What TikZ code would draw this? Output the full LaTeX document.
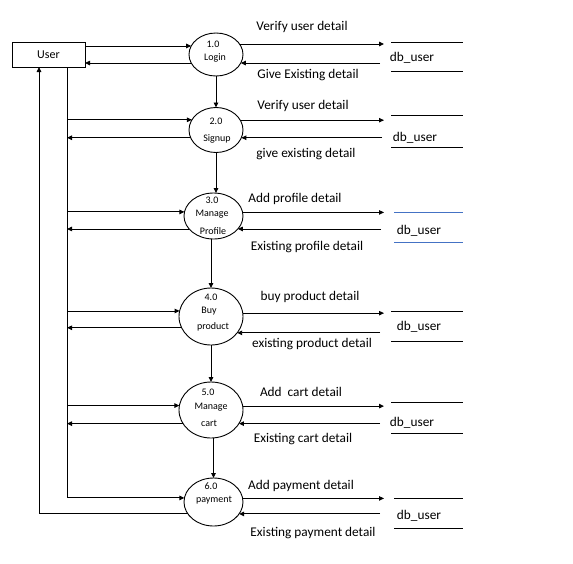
\documentclass[tikz,border=0pt]{standalone}
\usepackage{fontspec}
\setmainfont{Carlito}
\usetikzlibrary{arrows.meta,shapes.geometric}
\definecolor{storeblue}{RGB}{68,114,196}
\tikzset{
  line/.style={line width=0.9pt},
  flow/.style={line, -{Triangle[length=5pt,width=4.5pt]}},
  proc/.style={ellipse, draw, line width=0.9pt, inner sep=0pt, outer sep=0pt},
  ptext/.style={font=\fontsize{10}{12}\selectfont, inner sep=0pt},
  lbl/.style={font=\fontsize{13.3}{16}\selectfont, inner sep=0pt},
  storeline/.style={line width=0.9pt},
  entity/.style={draw, line width=0.9pt, minimum width=73pt, minimum height=25pt,
                 inner sep=0pt, outer sep=0pt, font=\fontsize{12}{14}\selectfont},
}
\begin{document}
\begin{tikzpicture}[x=1pt,y=-1pt]
\useasboundingbox (0,0) rectangle (573,563);

% external entity
\node[entity] (user) at (48.5,54.5) {User};

% processes
\node[proc, minimum width=54, minimum height=43] (c1) at (216,54.5) {};
\node[proc, minimum width=54, minimum height=45] (c2) at (216,130) {};
\node[proc, minimum width=59, minimum height=46] (c3) at (213.5,216) {};
\node[proc, minimum width=64, minimum height=57] (c4) at (211,316.5) {};
\node[proc, minimum width=64, minimum height=56] (c5) at (211,410) {};
\node[proc, minimum width=59, minimum height=48] (c6) at (213.5,502) {};

\node[ptext] (c1n) at (213,44) {1.0};
\node[ptext] (c1t) at (215,58) {Login};
\node[ptext] (c2n) at (216,121) {2.0};
\node[ptext] (c2t) at (217,139) {Signup};
\node[ptext] (c3n) at (212,200) {3.0};
\node[ptext] (c3t) at (212,214) {Manage};
\node[ptext] (c3u) at (213,231) {Profile};
\node[ptext] (c4n) at (211,297) {4.0};
\node[ptext] (c4t) at (209,311) {Buy};
\node[ptext] (c4u) at (213,327) {product};
\node[ptext] (c5n) at (208,392) {5.0};
\node[ptext] (c5t) at (211,407) {Manage};
\node[ptext] (c5u) at (209,423) {cart};
\node[ptext] (c6n) at (211,486) {6.0};
\node[ptext] (c6t) at (214,500) {payment};

% user bus lines
\coordinate (bus) at (67,67);
\coordinate (ret) at (39,67);

\draw[flow] (user.east |- c1.161) -- (c1.161);
\draw[flow] (c1.199) -- (user.east |- c1.199);

\draw[flow] (bus |- c2.157.5) -- (c2.157.5);
\draw[flow] (c2.197.6) -- (bus |- c2.197.6);
\draw[flow] (bus |- c3.172.2) -- (c3.172.2);
\draw[flow] (c3.208) -- (bus |- c3.208);
\draw[flow] (bus |- c4.170) -- (c4.170);
\draw[flow] (c4.201.4) -- (bus |- c4.201.4);
\draw[flow] (bus |- c5.172.8) -- (c5.172.8);
\draw[flow] (c5.206.8) -- (bus |- c5.206.8);
\draw[flow] (bus) -- (bus |- c6.172.2) -- (c6.172.2);
\draw[flow] (c6.205.2) -- (ret |- c6.205.2) -- (ret);

% process chain
\draw[flow] (c1.south) -- (c2.north);
\draw[flow] (c2.south) -- (c2.south |- c3.north);
\draw[flow] (c4.north |- c3.south) -- (c4.north);
\draw[flow] (c4.south) -- (c5.north);
\draw[flow] (c6.north |- c5.south) -- (c6.north);

% data store ends of the flows
\coordinate (win) at (384,0);
\coordinate (rA) at (380,0);
\coordinate (rB) at (382,0);
\coordinate (rC) at (381,0);

\draw[flow] (c1.24) -- (c1.24 -| win);
\draw[flow] (c1.-19 -| rA) -- (c1.-19);
\draw[flow] (c2.22.5) -- (c2.22.5 -| win);
\draw[flow] (c2.-17.6 -| rB) -- (c2.-17.6);
\draw[flow] (c3.7.8) -- (c3.7.8 -| win);
\draw[flow] (c3.-28 -| rC) -- (c3.-28);
\draw[flow] (c4.6.3) -- (c4.6.3 -| win);
\draw[flow] (c4.-32.3 -| rA) -- (c4.-32.3);
\draw[flow] (c5.7.2) -- (c5.7.2 -| win);
\draw[flow] (c5.-26.8 -| rA) -- (c5.-26.8);
\draw[flow] (c6.7.8) -- (c6.7.8 -| win);
\draw[flow] (c6.-25.2 -| rA) -- (c6.-25.2);

% data stores
\draw[storeline] (391,42) -- (463,42) (391,71) -- (463,71);
\node[lbl] (d1) at (412,58) {db\_user};
\draw[storeline] (391,115) -- (463,115) (391,147) -- (463,147);
\node[lbl] (d2) at (415,138) {db\_user};
\draw[storeline, storeblue] (394,212) -- (463,212) (394,242) -- (463,242);
\node[lbl] (d3) at (419,231) {db\_user};
\draw[storeline] (391,311) -- (463,311) (391,341) -- (463,341);
\node[lbl] (d4) at (419,327) {db\_user};
\draw[storeline] (391,402) -- (463,402) (391,433) -- (463,433);
\node[lbl] (d5) at (412,423) {db\_user};
\draw[storeline] (394,498) -- (463,498) (394,528) -- (463,528);
\node[lbl] (d6) at (419,516) {db\_user};

% flow labels
\node[lbl] (l1a) at (302,27) {Verify user detail};
\node[lbl] (l1b) at (308,75) {Give Existing detail};
\node[lbl] (l2a) at (303,106) {Verify user detail};
\node[lbl] (l2b) at (306,154) {give existing detail};
\node[lbl] (l3a) at (295,199) {Add profile detail};
\node[lbl] (l3b) at (307,247) {Existing profile detail};
\node[lbl] (l4a) at (310,297) {buy product detail};
\node[lbl] (l4b) at (312,344) {existing product detail};
\node[lbl] (l5a) at (301,392) {Add\ \ cart detail};
\node[lbl] (l5b) at (303,439) {Existing cart detail};
\node[lbl] (l6a) at (301,486) {Add payment detail};
\node[lbl] (l6b) at (313,533) {Existing payment detail};
\end{tikzpicture}
\end{document}
